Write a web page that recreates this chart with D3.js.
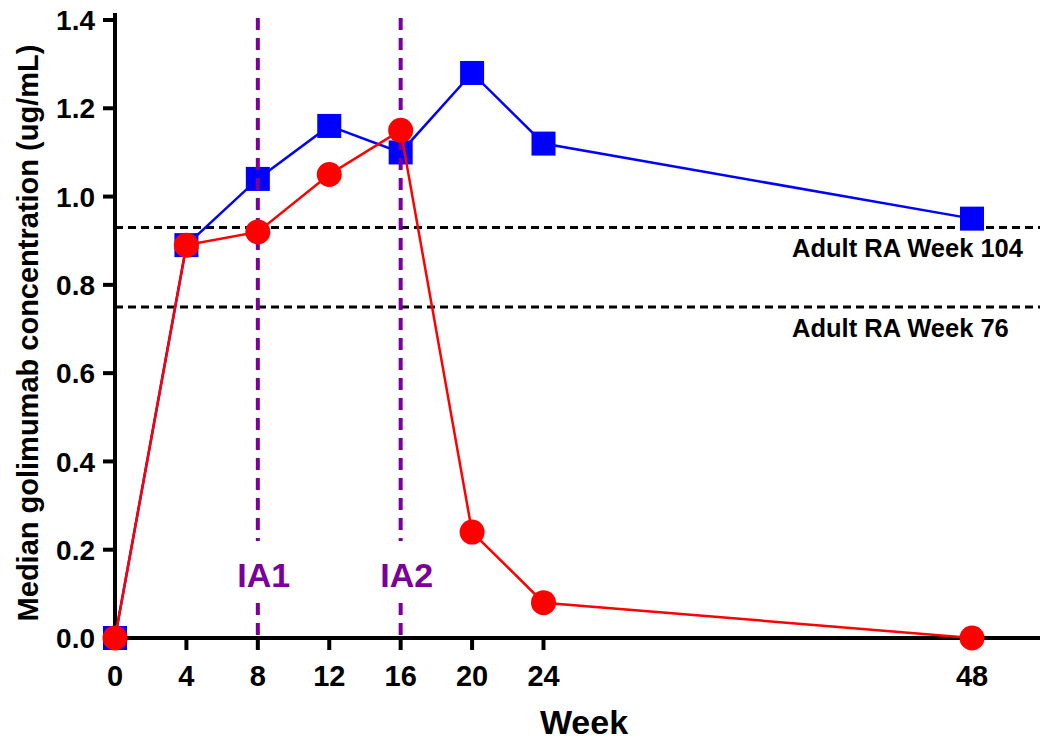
<!DOCTYPE html>
<html>
<head>
<meta charset="utf-8">
<script src="https://cdn.jsdelivr.net/npm/d3@7"></script>
<style>
  body { margin: 0; background: #fff; }
  svg { display: block; font-family: "Liberation Sans", Arial, sans-serif; font-weight: bold; }
</style>
</head>
<body>
<svg id="chart"></svg>
<script>
// chart data
var weeks = [0, 4, 8, 12, 16, 20, 24, 48];
var blueVals = [0, 0.89, 1.04, 1.16, 1.10, 1.28, 1.12, 0.95];
var redVals = [0, 0.89, 0.92, 1.05, 1.15, 0.24, 0.08, 0.0];
var xTicks = [0, 4, 8, 12, 16, 20, 24, 48];
var yTicks = [0, 0.2, 0.4, 0.6, 0.8, 1.0, 1.2, 1.4];
var refLines = [{ v: 0.93, label: "Adult RA Week 104" }, { v: 0.75, label: "Adult RA Week 76" }];
var iaLines = [{ w: 8, label: "IA1" }, { w: 16, label: "IA2" }];

var W = 1041, H = 743;
var svg = d3.select("#chart").attr("width", W).attr("height", H);

var x = d3.scaleLinear().domain([0, 48]).range([115, 972]);
var y = d3.scaleLinear().domain([0, 1.4]).range([638, 20]);
var xEnd = 1040, yTop = 13;

//axes
var gx = svg.append("g").attr("transform", "translate(0," + y(0) + ")");
gx.append("line").attr("x1", x(0) - 2).attr("x2", xEnd).attr("stroke", "#000").attr("stroke-width", 4);
gx.selectAll("g.t").data(xTicks).enter().append("g").attr("class", "t")
  .attr("transform", function(d) { return "translate(" + x(d) + ",0)"; })
  .each(function(d) {
    var g = d3.select(this);
    g.append("line").attr("y1", 0).attr("y2", 12).attr("stroke", "#000").attr("stroke-width", 4);
    g.append("text").attr("y", 48).attr("text-anchor", "middle").style("font-size", "29px").text(d);
  });

var gy = svg.append("g").attr("transform", "translate(" + x(0) + ",0)");
gy.append("line").attr("y1", y(0) + 2).attr("y2", yTop).attr("stroke", "#000").attr("stroke-width", 4);
gy.selectAll("g.t").data(yTicks).enter().append("g").attr("class", "t")
  .attr("transform", function(d) { return "translate(0," + y(d) + ")"; })
  .each(function(d) {
    var g = d3.select(this);
    g.append("line").attr("x1", 0).attr("x2", -12).attr("stroke", "#000").attr("stroke-width", 4);
    g.append("text").attr("x", -20).attr("dy", "0.36em").attr("text-anchor", "end").style("font-size", "28px").text(d3.format(".1f")(d));
  });

svg.append("text").attr("x", 584).attr("y", 734).attr("text-anchor", "middle").style("font-size", "34px").text("Week");
svg.append("text").attr("transform", "translate(38,333) rotate(-90)").attr("text-anchor", "middle")
  .style("font-size", "29px").text("Median golimumab concentration (ug/mL)");

//reference lines
refLines.forEach(function(r) {
  svg.append("line").attr("x1", x(0)).attr("x2", xEnd).attr("y1", y(r.v)).attr("y2", y(r.v))
    .attr("stroke", "#000").attr("stroke-width", 3).attr("stroke-dasharray", "8,5");
  svg.append("text").attr("x", 792).attr("y", y(r.v) + 30)
    .style("font-size", "25.5px").text(r.label);
});

var line = d3.line().x(function(d) { return x(d[0]); }).y(function(d) { return y(d[1]); });
var blue = weeks.map(function(w, i) { return [w, blueVals[i]]; });
var red = weeks.map(function(w, i) { return [w, redVals[i]]; });

//blue series
svg.append("path").datum(blue).attr("d", line).attr("fill", "none").attr("stroke", "#0000ff").attr("stroke-width", 2.5);
svg.append("g").selectAll("rect").data(blue).enter().append("rect")
  .attr("x", function(d) { return x(d[0]) - 12; }).attr("y", function(d) { return y(d[1]) - 12; })
  .attr("width", 24).attr("height", 24).attr("fill", "#0000ff");

//interim analysis lines
iaLines.forEach(function(l) {
  var xx = x(l.w);
  svg.append("line").attr("x1", xx).attr("x2", xx).attr("y1", 18).attr("y2", 541)
    .attr("stroke", "#7b0099").attr("stroke-width", 4).attr("stroke-dasharray", "12,8");
  svg.append("line").attr("x1", xx).attr("x2", xx).attr("y1", 603).attr("y2", y(0))
    .attr("stroke", "#7b0099").attr("stroke-width", 4).attr("stroke-dasharray", "12,8");
  svg.append("text").attr("x", xx + 6).attr("y", 587).attr("text-anchor", "middle")
    .style("font-size", "34px").attr("fill", "#7b0099").text(l.label);
});

//red series
svg.append("path").datum(red).attr("d", line).attr("fill", "none").attr("stroke", "#ff0000").attr("stroke-width", 2.5);
svg.append("g").selectAll("circle").data(red).enter().append("circle")
  .attr("cx", function(d) { return x(d[0]); }).attr("cy", function(d) { return y(d[1]); })
  .attr("r", 12.5).attr("fill", "#ff0000");
</script>
</body>
</html>
